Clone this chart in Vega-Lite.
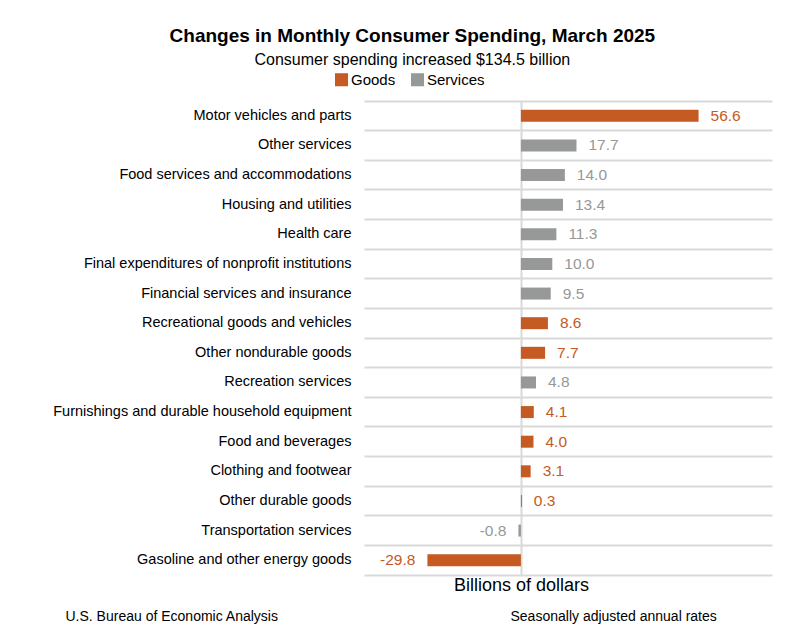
{
  "$schema": "https://vega.github.io/schema/vega-lite/v6.json",
  "width": 408,
  "height": 474,
  "padding": {"left": 52, "right": 5, "top": 27, "bottom": 5},
  "title": {
    "text": "Changes in Monthly Consumer Spending, March 2025",
    "subtitle": "Consumer spending increased $134.5 billion",
    "anchor": "middle",
    "frame": "bounds",
    "font": "Liberation Sans",
    "fontSize": 19,
    "fontWeight": "bold",
    "color": "#000000",
    "subtitleFont": "Liberation Sans",
    "subtitleFontSize": 16,
    "subtitleColor": "#000000",
    "subtitlePadding": 6,
    "offset": 4
  },
  "data": {
    "values": [
      {"category": "Motor vehicles and parts", "type": "Goods", "value": 56.6},
      {"category": "Other services", "type": "Services", "value": 17.7},
      {"category": "Food services and accommodations", "type": "Services", "value": 14.0},
      {"category": "Housing and utilities", "type": "Services", "value": 13.4},
      {"category": "Health care", "type": "Services", "value": 11.3},
      {"category": "Final expenditures of nonprofit institutions", "type": "Services", "value": 10.0},
      {"category": "Financial services and insurance", "type": "Services", "value": 9.5},
      {"category": "Recreational goods and vehicles", "type": "Goods", "value": 8.6},
      {"category": "Other nondurable goods", "type": "Goods", "value": 7.7},
      {"category": "Recreation services", "type": "Services", "value": 4.8},
      {"category": "Furnishings and durable household equipment", "type": "Goods", "value": 4.1},
      {"category": "Food and beverages", "type": "Goods", "value": 4.0},
      {"category": "Clothing and footwear", "type": "Goods", "value": 3.1},
      {"category": "Other durable goods", "type": "Goods", "value": 0.3},
      {"category": "Transportation services", "type": "Services", "value": -0.8},
      {"category": "Gasoline and other energy goods", "type": "Goods", "value": -29.8}
    ]
  },
  "encoding": {
    "y": {
      "field": "category",
      "type": "nominal",
      "sort": null,
      "scale": {"paddingInner": 0, "paddingOuter": 0},
      "axis": {
        "title": null,
        "domain": false,
        "ticks": false,
        "labelFont": "Liberation Sans",
        "labelFontSize": 14.5,
        "labelColor": "#000000",
        "labelPadding": 13,
        "labelLimit": 400,
        "grid": true,
        "gridColor": "#d9d9d9",
        "gridWidth": 2,
        "bandPosition": 0
      }
    },
    "color": {
      "field": "type",
      "type": "nominal",
      "scale": {"domain": ["Goods", "Services"], "range": ["#c55a22", "#979898"]},
      "legend": {
        "title": null,
        "orient": "none",
        "direction": "horizontal",
        "legendX": -30,
        "legendY": -29,
        "symbolType": "square",
        "symbolSize": 170,
        "symbolStrokeWidth": 0,
        "symbolOpacity": 1,
        "labelFont": "Liberation Sans",
        "labelFontSize": 15,
        "labelColor": "#000000",
        "labelOffset": 2,
        "columnPadding": 14
      }
    }
  },
  "layer": [
    {
      "mark": {"type": "bar", "size": 12},
      "encoding": {
        "x": {
          "field": "value",
          "type": "quantitative",
          "scale": {"domain": [-50, 80], "nice": false, "zero": false},
          "axis": {
            "orient": "bottom",
            "values": [0],
            "labels": false,
            "ticks": false,
            "domain": true,
            "domainColor": "#d9d9d9",
            "domainWidth": 2,
            "grid": true,
            "gridColor": "#d9d9d9",
            "gridWidth": 2,
            "title": "Billions of dollars",
            "titleFont": "Liberation Sans",
            "titleFontSize": 18,
            "titleFontWeight": "normal",
            "titleColor": "#000000",
            "titleX": 157,
            "titleY": 10,
            "titleAlign": "center",
            "titleBaseline": "middle"
          }
        }
      }
    },
    {
      "transform": [{"filter": "datum.value >= 0"}],
      "mark": {"type": "text", "align": "left", "baseline": "middle", "dx": 12, "font": "Liberation Sans", "fontSize": 15.5},
      "encoding": {
        "x": {
          "field": "value",
          "type": "quantitative",
          "axis": {
            "orient": "bottom",
            "labels": false,
            "ticks": false,
            "domain": false,
            "grid": false,
            "title": "U.S. Bureau of Economic Analysis",
            "titleFont": "Liberation Sans",
            "titleFontSize": 14,
            "titleFontWeight": "normal",
            "titleColor": "#000000",
            "titleX": -299,
            "titleY": 41,
            "titleAlign": "left",
            "titleBaseline": "middle"
          }
        },
        "text": {"field": "value", "type": "quantitative", "format": ".1f"}
      }
    },
    {
      "transform": [{"filter": "datum.value < 0"}],
      "mark": {"type": "text", "align": "right", "baseline": "middle", "dx": -12, "font": "Liberation Sans", "fontSize": 15.5},
      "encoding": {
        "x": {
          "field": "value",
          "type": "quantitative",
          "axis": {
            "orient": "bottom",
            "labels": false,
            "ticks": false,
            "domain": false,
            "grid": false,
            "title": "Seasonally adjusted annual rates",
            "titleFont": "Liberation Sans",
            "titleFontSize": 14,
            "titleFontWeight": "normal",
            "titleColor": "#000000",
            "titleX": 146,
            "titleY": 41,
            "titleAlign": "left",
            "titleBaseline": "middle"
          }
        },
        "text": {"field": "value", "type": "quantitative", "format": ".1f"}
      }
    }
  ],
  "resolve": {"axis": {"x": "independent"}},
  "config": {
    "view": {"stroke": null},
    "font": "Liberation Sans",
    "locale": {
      "number": {"decimal": ".", "thousands": ",", "grouping": [3], "currency": ["$", ""], "minus": "-"}
    }
  }
}
